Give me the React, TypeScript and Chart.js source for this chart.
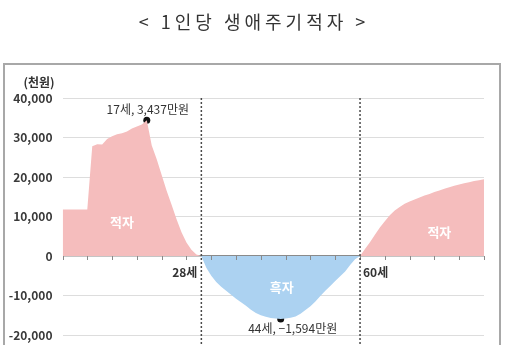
import { useEffect, useRef } from 'react';
import { Chart, registerables } from 'chart.js';

Chart.register(...registerables);

const ages = [
  0, 1, 2, 3, 4, 5, 6, 7, 8, 9, 10, 11, 12, 13, 14, 15, 16, 17, 18, 19, 20,
  21, 22, 23, 24, 25, 26, 27, 28, 29, 30, 31, 32, 33, 34, 35, 36, 37, 38, 39, 40,
  41, 42, 43, 44, 45, 46, 47, 48, 49, 50, 51, 52, 53, 54, 55, 56, 57, 58, 59, 60,
  61, 62, 63, 64, 65, 66, 67, 68, 69, 70, 71, 72, 73, 74, 75, 76, 77, 78, 79, 80,
  81, 82, 83, 84, 85,
];

// 1인당 생애주기적자 (천원)
const deficit = [
  11800, 11800, 11800, 11800, 11800, 11800, 27800, 28300, 28200, 29600, 30300,
  30800, 31100, 31500, 32300, 32800, 33300, 34370, 28000, 24500, 20500,
  16500, 13000, 9300, 6000, 3400, 1600, 400, 0, -3000, -5000,
  -6600, -7800, -8800, -9800, -10800, -11700, -12600, -13600, -14400, -15000,
  -15400, -15700, -15850, -15940, -15850, -15650, -15300, -14600, -13700, -12700,
  -11500, -10100, -8800, -7600, -6300, -5100, -3900, -2300, -800, 0,
  1800, 3500, 5400, 7200, 8800, 10300, 11500, 12400, 13200, 13800,
  14300, 14800, 15300, 15700, 16200, 16600, 17000, 17400, 17800, 18100,
  18400, 18700, 19000, 19200, 19400,
];

const yTickValues = [-20000, -10000, 0, 10000, 20000, 30000, 40000];
const markerAges = [17, 44];
const markerValues = [34370, -15940];
const markerLabels = ['17세, 3,437만원', '44세, −1,594만원'];
const boundaryAges = [28, 60];
const boundaryLabels = ['28세', '60세'];

const FONT = '"Noto Sans CJK KR", "Noto Sans", sans-serif';

export default function App() {
  const ref = useRef<HTMLCanvasElement | null>(null);

  useEffect(() => {
    document.body.style.margin = '0';
    const canvas = ref.current;
    if (!canvas) return;

    const overlay = {
      id: 'overlay',
      afterDatasetsDraw(chart: any) {
        const { ctx, chartArea } = chart;
        const xs = chart.scales.x;
        const ys = chart.scales.y;
        const y0 = ys.getPixelForValue(0);
        ctx.save();

        // tick marks on zero line
        ctx.strokeStyle = '#8a8a8a';
        ctx.lineWidth = 1;
        for (let a = 0; a <= 85; a += 5) {
          const px = Math.round(xs.getPixelForValue(a)) + 0.5;
          ctx.beginPath();
          ctx.moveTo(px, y0);
          ctx.lineTo(px, y0 + 4);
          ctx.stroke();
        }

        // dotted boundary lines
        ctx.strokeStyle = '#4a4a4a';
        ctx.lineWidth = 1.5;
        ctx.setLineDash([2, 2]);
        boundaryAges.forEach((a) => {
          const px = xs.getPixelForValue(a);
          ctx.beginPath();
          ctx.moveTo(px, chartArea.top);
          ctx.lineTo(px, 345);
          ctx.stroke();
        });
        ctx.setLineDash([]);

        // boundary labels
        ctx.fillStyle = '#333';
        ctx.font = `bold 12px ${FONT}`;
        ctx.textBaseline = 'middle';
        ctx.textAlign = 'right';
        ctx.fillText(boundaryLabels[0], xs.getPixelForValue(boundaryAges[0]) - 4, y0 + 16);
        ctx.textAlign = 'left';
        ctx.fillText(boundaryLabels[1], xs.getPixelForValue(boundaryAges[1]) + 3, y0 + 16);

        // marker labels
        ctx.textAlign = 'center';
        ctx.font = `12px ${FONT}`;
        ctx.fillText(
          markerLabels[0],
          xs.getPixelForValue(markerAges[0]) + 1,
          ys.getPixelForValue(markerValues[0]) - 11
        );
        ctx.fillText(
          markerLabels[1],
          xs.getPixelForValue(markerAges[1]) + 12,
          ys.getPixelForValue(markerValues[1]) + 9
        );

        // area labels
        ctx.fillStyle = '#ffffff';
        ctx.font = `bold 13px ${FONT}`;
        ctx.fillText('적자', xs.getPixelForValue(12), ys.getPixelForValue(8500));
        ctx.fillText('적자', xs.getPixelForValue(76), ys.getPixelForValue(6100));
        ctx.fillText('흑자', xs.getPixelForValue(44.2), ys.getPixelForValue(-7850));

        // unit label
        ctx.fillStyle = '#333';
        ctx.font = `bold 12px ${FONT}`;
        ctx.fillText('(천원)', 39, 82);

        // frame
        ctx.strokeStyle = '#a8a8a8';
        ctx.lineWidth = 2;
        ctx.strokeRect(4, 64, 496, 300);

        // title
        ctx.fillStyle = '#333';
        ctx.font = `18px ${FONT}`;
        (ctx as any).letterSpacing = '4px';
        ctx.textAlign = 'center';
        ctx.fillText('< 1인당 생애주기적자 >', 254, 22);
        (ctx as any).letterSpacing = '0px';

        ctx.restore();
      },
    };

    const chart = new Chart(canvas, {
      type: 'line',
      data: {
        datasets: [
          {
            data: ages.map((a, i) => ({ x: a, y: deficit[i] })),
            borderColor: 'rgba(0,0,0,0)',
            borderWidth: 0,
            pointRadius: 0,
            tension: 0,
            fill: {
              target: 'origin',
              above: '#f5bdbd',
              below: '#acd2f1',
            },
          },
          {
            data: markerAges.map((a, i) => ({ x: a, y: markerValues[i] })),
            showLine: false,
            pointRadius: 3.5,
            pointBackgroundColor: '#111',
            pointBorderWidth: 0,
            borderColor: '#111',
          },
        ],
      },
      options: {
        animation: false,
        responsive: false,
        devicePixelRatio: 1,
        layout: { padding: { top: 98, bottom: 10, left: 0, right: 21 } },
        plugins: {
          legend: { display: false },
          tooltip: { enabled: false },
          title: { display: false },
        },
        scales: {
          x: {
            type: 'linear',
            min: 0,
            max: 85,
            display: false,
          },
          y: {
            min: -20000,
            max: 40000,
            afterBuildTicks: (scale: any) => {
              scale.ticks = yTickValues.map((v) => ({ value: v }));
            },
            afterFit: (scale: any) => {
              scale.width = 62.5;
              scale.paddingTop = 0;
              scale.paddingBottom = 0;
            },
            ticks: {
              padding: 10,
              color: '#3a3a3a',
              font: { family: FONT, size: 12, weight: 'bold' },
              callback: (v: any) => Number(v).toLocaleString('en-US'),
            },
            grid: {
              drawTicks: false,
              color: (c: any) => (c.tick && c.tick.value === 0 ? '#8a8a8a' : '#dddddd'),
              lineWidth: (c: any) => (c.tick && c.tick.value === 0 ? 1.5 : 1),
            },
            border: { display: false },
          },
        },
      },
      plugins: [overlay],
    });

    return () => chart.destroy();
  }, []);

  return (
    <div style={{ width: 505, height: 345, position: 'relative', background: '#fff' }}>
      <canvas ref={ref} width={505} height={345} />
    </div>
  );
}
